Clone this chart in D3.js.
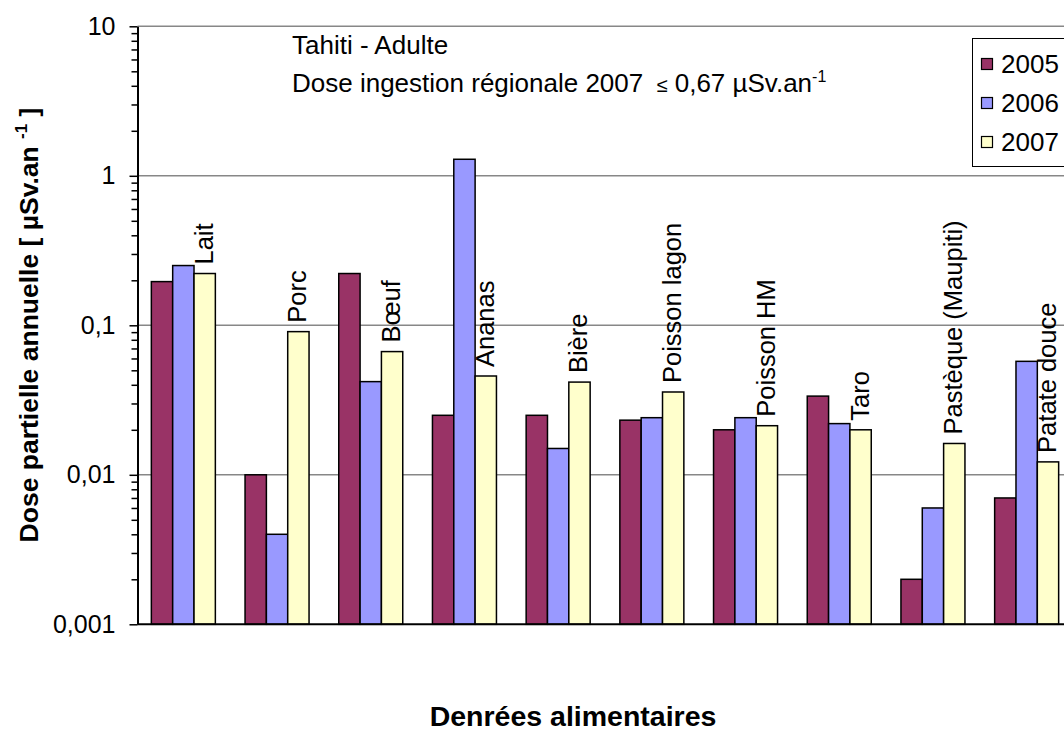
<!DOCTYPE html>
<html><head><meta charset="utf-8">
<script src="https://cdn.jsdelivr.net/npm/d3@7"></script>
<style>body{margin:0;background:#fff;overflow:hidden} text{font-family:"Liberation Sans",Arial,sans-serif}</style>
</head><body><svg id="c" width="1064" height="733"></svg>
<script>
const categories = ["Lait","Porc","Bœuf","Ananas","Bière","Poisson lagon","Poisson HM","Taro","Pastèque (Maupiti)","Patate douce"];
const series = ["2005","2006","2007"];
const values2005 = [0.196,0.010,0.222,0.025,0.025,0.0232,0.020,0.0336,0.002,0.007];
const values2006 = [0.251,0.004,0.042,1.29,0.015,0.0241,0.0241,0.022,0.006,0.0574];
const values2007 = [0.222,0.0907,0.0667,0.0458,0.0417,0.0358,0.0213,0.020,0.0162,0.0122];
const colors = ["#993366","#9999FF","#FFFFCC"];
const yTicks = [0.001,0.01,0.1,1,10];
const yTickLabels = ["0,001","0,01","0,1","1","10"];

(function(){
const svg = d3.select("#c");
const pLeft = 137.5, pRight = 1073.5, pTop = 26.3, pBottom = 624.3;
const y = d3.scaleLog().domain([0.001,10]).range([pBottom, pTop]);
const x = d3.scaleBand().domain(categories).range([136.5, pRight]);
const groupW = 64;
const x1 = d3.scaleBand().domain(series).range([0, groupW]);
const off = (x.bandwidth() - groupW) / 2;

// gridlines
svg.append("g").selectAll("line").data(yTicks.slice(1)).join("line")
  .attr("x1", pLeft).attr("x2", 1064).attr("y1", d => y(d)).attr("y2", d => y(d))
  .attr("stroke", "#878787").attr("stroke-width", 1.5);

// bars
const allVals = [values2005, values2006, values2007];
series.forEach((s, si) => {
  svg.append("g").selectAll("rect").data(categories).join("rect")
    .attr("x", c => x(c) + off + x1(s))
    .attr("width", x1.bandwidth())
    .attr("y", (c, i) => y(allVals[si][i]))
    .attr("height", (c, i) => y(0.001) - y(allVals[si][i]))
    .attr("fill", colors[si]).attr("stroke", "#000").attr("stroke-width", 1.5);
});

// data labels (category names above 2007 bars)
svg.append("g").selectAll("text").data(categories).join("text")
  .attr("transform", (c, i) => `translate(${x(c) + off + x1("2007") + x1.bandwidth()/2 + 8},${y(values2007[i]) - 9}) rotate(-90)`)
  .attr("font-size", 25.5).attr("fill", "#000")
  .text(c => c);

// y axis
const minors = [];
for (let e = -3; e < 1; e++) for (let m = 2; m <= 9; m++) minors.push(m * Math.pow(10, e));
svg.append("g").attr("transform", `translate(${pLeft},0)`)
  .call(d3.axisLeft(y).tickValues(minors).tickSize(6).tickFormat(""))
  .call(g => g.select(".domain").remove())
  .selectAll("line").attr("stroke", "#000").attr("stroke-width", 1.5);
const ya = svg.append("g").attr("transform", `translate(${pLeft},0)`)
  .call(d3.axisLeft(y).tickValues(yTicks).tickSize(8).tickSizeOuter(0).tickPadding(14)
    .tickFormat((d, i) => yTickLabels[i]));
ya.select(".domain").attr("stroke", "#000").attr("stroke-width", 2);
ya.selectAll("line").attr("stroke", "#000").attr("stroke-width", 1.5);
ya.selectAll("text").attr("font-size", 25).attr("fill", "#000").attr("font-family", "Liberation Sans, Arial, sans-serif");

// x axis baseline
svg.append("line").attr("x1", pLeft).attr("x2", 1064).attr("y1", pBottom).attr("y2", pBottom)
  .attr("stroke", "#000").attr("stroke-width", 2);

// annotation
svg.append("text").attr("x", 292).attr("y", 54).attr("font-size", 26).text("Tahiti - Adulte");
const t2 = svg.append("text").attr("x", 292).attr("y", 92).attr("font-size", 26);
t2.append("tspan").text("Dose ingestion régionale 2007 ");
t2.append("tspan").attr("font-size", 20).attr("dx", 6).text("≤");
t2.append("tspan").text(" 0,67 µSv.an");
t2.append("tspan").attr("font-size", 16).attr("dy", -10).text("-1");

// legend
const lg = svg.append("g");
lg.append("rect").attr("x", 972.5).attr("y", 38.5).attr("width", 110).attr("height", 128)
  .attr("fill", "#fff").attr("stroke", "#000").attr("stroke-width", 1);
series.forEach((s, i) => {
  lg.append("rect").attr("x", 981.5).attr("y", 58.5 + i * 39).attr("width", 11).attr("height", 11)
    .attr("fill", colors[i]).attr("stroke", "#000").attr("stroke-width", 1.2);
  lg.append("text").attr("x", 1001).attr("y", 73 + i * 39).attr("font-size", 26).text(s);
});

// axis titles
svg.append("text").attr("x", 573).attr("y", 726).attr("text-anchor", "middle")
  .attr("font-size", 28.5).attr("font-weight", "bold").text("Denrées alimentaires");
const yt = svg.append("text").attr("transform", "translate(37.5,325) rotate(-90)")
  .attr("text-anchor", "middle").attr("font-size", 26.5).attr("font-weight", "bold");
yt.append("tspan").text("Dose partielle annuelle [ µSv.an ");
yt.append("tspan").attr("font-size", 17).attr("dy", -11).text("-1");
yt.append("tspan").attr("dy", 11).text(" ]");
})();
</script></body></html>
